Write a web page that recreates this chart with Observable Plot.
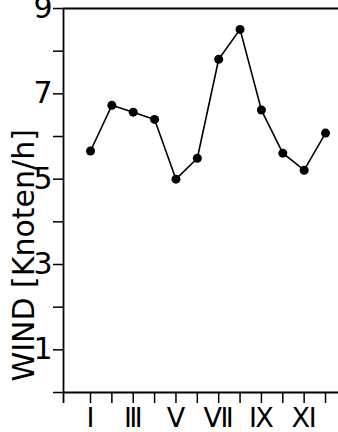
<!DOCTYPE html>
<html>
<head>
<meta charset="utf-8">
<script src="https://cdn.jsdelivr.net/npm/d3@7"></script>
<script src="https://cdn.jsdelivr.net/npm/@observablehq/plot@0.6"></script>
<style>
  html, body { margin: 0; padding: 0; background: #fff; }
  #chart svg { display: block; }
</style>
</head>
<body>
<div id="chart"></div>
<script>
const months = [1, 2, 3, 4, 5, 6, 7, 8, 9, 10, 11, 12];
const wind = [5.66, 6.73, 6.57, 6.40, 5.00, 5.49, 7.81, 8.51, 6.62, 5.61, 5.21, 6.08];
const xTickLabels = ["Ⅰ", "", "Ⅲ", "", "Ⅴ", "", "Ⅶ", "", "Ⅸ", "", "Ⅺ", ""];
const yTicks = [0, 1, 2, 3, 4, 5, 6, 7, 8, 9];
const yTickLabels = ["", "1", "", "3", "", "5", "", "7", "", "9"];
const yLabel = "WIND [Knoten/h]";

const data = months.map((m, i) => ({month: m, wind: wind[i]}));
const xDomain = [-0.264, 12.608];

const chart = Plot.plot({
  width: 338,
  height: 432,
  marginLeft: 63,
  marginRight: 0,
  marginTop: 8,
  marginBottom: 40,
  style: {fontFamily: "DejaVu Sans", color: "#000", background: "#fff"},
  x: {domain: xDomain},
  y: {domain: [0, 9]},
  marks: [
    Plot.ruleY([9], {stroke: "#000", strokeWidth: 2}),
    Plot.ruleY([0], {stroke: "#000", strokeWidth: 2}),
    Plot.ruleX([xDomain[0]], {stroke: "#000", strokeWidth: 1.8, insetBottom: -11}),
    Plot.axisY({
      ticks: yTicks,
      tickSize: 10,
      tickPadding: 1,
      tickFormat: (d) => yTickLabels[yTicks.indexOf(d)],
      fontSize: 30,
      strokeWidth: 1.5,
      label: null
    }),
    Plot.axisX({
      ticks: months,
      tickSize: 11,
      tickPadding: 4,
      tickFormat: (d) => xTickLabels[months.indexOf(d)],
      fontSize: 27,
      strokeWidth: 1.5,
      label: null
    }),
    Plot.text([yLabel], {
      frameAnchor: "bottom-left",
      rotate: -90,
      textAnchor: "start",
      lineAnchor: "bottom",
      dx: -30,
      dy: -11,
      fontSize: 30,
      fill: "#000"
    }),
    Plot.line(data, {x: "month", y: "wind", stroke: "#000", strokeWidth: 1.6}),
    Plot.dot(data, {x: "month", y: "wind", r: 4.5, fill: "#000", stroke: "none"})
  ]
});
document.getElementById("chart").append(chart);
</script>
</body>
</html>
